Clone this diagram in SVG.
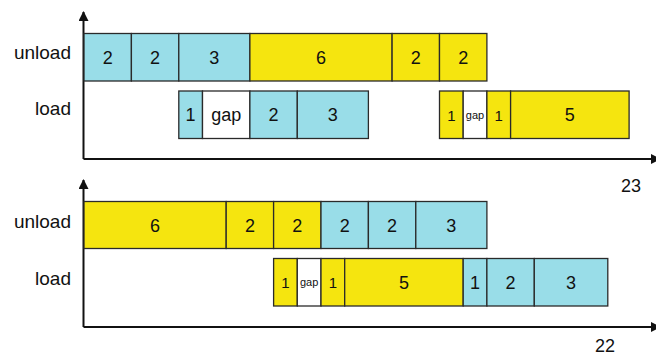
<svg xmlns="http://www.w3.org/2000/svg" width="656" height="356" viewBox="0 0 656 356">
<style>
text{font-family:"Liberation Sans",Arial,sans-serif;fill:#111}
.c rect{fill:#99dde8}
.y rect{fill:#f5e50f}
.w rect{fill:#fff}
rect{stroke:#2a2a2a;stroke-width:1.3}
.n{font-size:18px;text-anchor:middle}
.s{font-size:11px;text-anchor:middle}
.lab{font-size:19px;text-anchor:end}
.ax{stroke:#111;stroke-width:2;fill:none}
</style>
<defs>
<marker id="ah" viewBox="0 0 10 10" refX="9" refY="5" markerWidth="5" markerHeight="5" orient="auto" markerUnits="strokeWidth">
<path d="M0,0 L10,5 L0,10 z" fill="#111"/>
</marker>
</defs>
<g id="axes">
<line class="ax" x1="83.5" y1="159" x2="83.5" y2="12" marker-end="url(#ah)"/>
<line class="ax" x1="83.5" y1="159" x2="660" y2="159" marker-end="url(#ah)"/>
<line class="ax" x1="83.5" y1="327" x2="83.5" y2="180" marker-end="url(#ah)"/>
<line class="ax" x1="83.5" y1="327" x2="660" y2="327" marker-end="url(#ah)"/>
</g>
<g id="labels">
<text class="lab" x="71" y="59">unload</text>
<text class="lab" x="71" y="115">load</text>
<text class="n" x="631" y="192">23</text>
<text class="lab" x="71" y="228">unload</text>
<text class="lab" x="71" y="285">load</text>
<text class="n" x="605" y="352">22</text>
</g>
<g id="top-unload">
<g class="c"><rect x="84" y="33.5" width="47.4" height="47.5"/><text class="n" x="107.7" y="64">2</text></g>
<g class="c"><rect x="131.4" y="33.5" width="47.4" height="47.5"/><text class="n" x="155.1" y="64">2</text></g>
<g class="c"><rect x="178.8" y="33.5" width="71.1" height="47.5"/><text class="n" x="214.3" y="64">3</text></g>
<g class="y"><rect x="249.9" y="33.5" width="142.2" height="47.5"/><text class="n" x="321" y="64">6</text></g>
<g class="y"><rect x="392.1" y="33.5" width="47.4" height="47.5"/><text class="n" x="415.8" y="64">2</text></g>
<g class="y"><rect x="439.5" y="33.5" width="47.4" height="47.5"/><text class="n" x="463.2" y="64">2</text></g>
</g>
<g id="top-load">
<g class="c"><rect x="178.8" y="91" width="23.7" height="47.5"/><text class="n" x="190.6" y="121">1</text></g>
<g class="w"><rect x="202.5" y="91" width="47.4" height="47.5"/><text class="n" x="226.2" y="121">gap</text></g>
<g class="c"><rect x="249.9" y="91" width="47.4" height="47.5"/><text class="n" x="273.6" y="121">2</text></g>
<g class="c"><rect x="297.3" y="91" width="71.1" height="47.5"/><text class="n" x="332.8" y="121">3</text></g>
<g class="y"><rect x="439.5" y="91" width="23.7" height="47.5"/><text class="n" x="451.3" y="121" style="font-size:15px">1</text></g>
<g class="w"><rect x="463.2" y="91" width="23.7" height="47.5"/><text class="s" x="475" y="119">gap</text></g>
<g class="y"><rect x="486.9" y="91" width="23.7" height="47.5"/><text class="n" x="498.7" y="121" style="font-size:15px">1</text></g>
<g class="y"><rect x="510.6" y="91" width="118.5" height="47.5"/><text class="n" x="569.8" y="121">5</text></g>
</g>
<g id="bottom-unload">
<g class="y"><rect x="84" y="201.5" width="142.2" height="47"/><text class="n" x="155.1" y="232">6</text></g>
<g class="y"><rect x="226.2" y="201.5" width="47.4" height="47"/><text class="n" x="249.9" y="232">2</text></g>
<g class="y"><rect x="273.6" y="201.5" width="47.4" height="47"/><text class="n" x="297.3" y="232">2</text></g>
<g class="c"><rect x="321" y="201.5" width="47.4" height="47"/><text class="n" x="344.7" y="232">2</text></g>
<g class="c"><rect x="368.4" y="201.5" width="47.4" height="47"/><text class="n" x="392.1" y="232">2</text></g>
<g class="c"><rect x="415.8" y="201.5" width="71.1" height="47"/><text class="n" x="451.3" y="232">3</text></g>
</g>
<g id="bottom-load">
<g class="y"><rect x="273.6" y="258.5" width="23.7" height="47.5"/><text class="n" x="285.4" y="288" style="font-size:15px">1</text></g>
<g class="w"><rect x="297.3" y="258.5" width="23.7" height="47.5"/><text class="s" x="309.1" y="286">gap</text></g>
<g class="y"><rect x="321" y="258.5" width="23.7" height="47.5"/><text class="n" x="332.8" y="288" style="font-size:15px">1</text></g>
<g class="y"><rect x="344.7" y="258.5" width="118.5" height="47.5"/><text class="n" x="403.9" y="289">5</text></g>
<g class="c"><rect x="463.2" y="258.5" width="23.7" height="47.5"/><text class="n" x="475" y="289">1</text></g>
<g class="c"><rect x="486.9" y="258.5" width="47.4" height="47.5"/><text class="n" x="510.6" y="289">2</text></g>
<g class="c"><rect x="534.3" y="258.5" width="73.5" height="47.5"/><text class="n" x="571" y="289">3</text></g>
</g>
</svg>
